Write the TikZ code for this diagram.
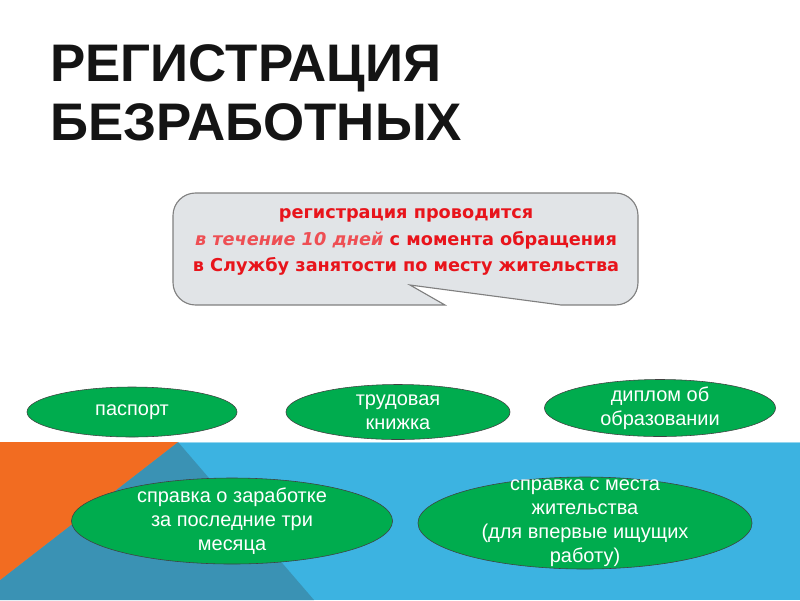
\documentclass[tikz,border=0pt]{standalone}
\usepackage{fontspec}
\setmainfont{Liberation Sans}
\newfontfamily\notefont{DejaVu Sans}
\usetikzlibrary{shapes.geometric, positioning}

\definecolor{bandblue}{RGB}{60,179,225}
\definecolor{darkband}{RGB}{58,146,180}
\definecolor{bandorange}{RGB}{242,108,33}
\definecolor{docgreen}{RGB}{0,172,78}
\definecolor{bubblegray}{RGB}{225,228,231}
\definecolor{notered}{RGB}{232,20,27}
\definecolor{titleblack}{RGB}{20,20,20}

\tikzset{
    title/.style={
        anchor=base west,
        align=left,
        text=titleblack,
        inner sep=0pt,
        font=\fontsize{37.6}{41.3}\selectfont\bfseries
    },
    bubble/.style={
        draw=black!50,
        fill=bubblegray,
        thick
    },
    notetext/.style={
        align=center,
        text=notered,
        font=\notefont\fontsize{12.6}{18.8}\selectfont\bfseries
    },
    doc/.style={
        ellipse,
        draw=black!75,
        fill=docgreen,
        inner sep=0pt
    },
    doctext/.style={
        align=center,
        text=white,
        inner sep=0pt,
        font=\fontsize{14.2}{17.1}\selectfont
    }
}

\begin{document}
\begin{tikzpicture}[x=0.025cm, y=-0.025cm]
    \useasboundingbox (0,0) rectangle (800,600);

    % Background band
    \fill[bandblue] (0,442) rectangle (800,600);
    \draw[bandblue!55!white, line width=0.6pt] (0,442.5) -- (800,442.5);
    \fill[darkband] (178,442) -- (314,600) -- (0,600) -- (0,580) -- cycle;
    \fill[bandorange] (0,442) -- (178,442) -- (0,580) -- cycle;

    % Title
    \node[title] (head) at (50,140) {РЕГИСТРАЦИЯ\\БЕЗРАБОТНЫХ};

    % Callout
    \draw[bubble] (300,305) -- (445,305) -- (410,285) -- (561,305) [rounded corners=16]
        -- (638,305) -- (638,193) -- (173,193) -- (173,305) [sharp corners] -- cycle;
    \node[notetext] (note) at (406,242) {регистрация проводится\\
        {\itshape\color{notered!75}в течение 10 дней} с момента обращения\\
        в Службу занятости по месту жительства};

    % Documents, first row
    \node[doc, minimum width=5.25cm, minimum height=1.25cm] (passport) at (132,412) {};
    \node[doctext] at (passport) {паспорт};

    \node[doc, minimum width=5.6cm, minimum height=1.375cm] (workbook) at (398,412) {};
    \node[doctext] at (workbook) {трудовая\\книжка};

    \node[doc, minimum width=5.775cm, minimum height=1.425cm] (diploma) at (660,408) {};
    \node[doctext] at (diploma) {диплом об\\образовании};

    % Documents, second row
    \node[doc, minimum width=8.025cm, minimum height=2.15cm] (salary) at (232,521) {};
    \node[doctext] at (salary) {справка о заработке\\за последние три\\месяца};

    \node[doc, minimum width=8.35cm, minimum height=2.3cm] (residence) at (585,523) {};
    \node[doctext] at (residence) {справка с места\\жительства\\(для впервые ищущих\\работу)};
\end{tikzpicture}
\end{document}
